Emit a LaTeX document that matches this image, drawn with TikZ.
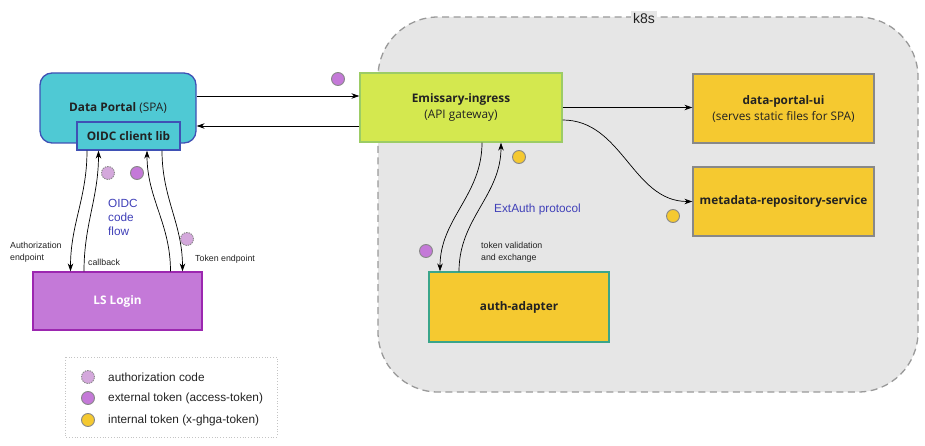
\documentclass[tikz,border=0pt]{standalone}
\usepackage{fontspec}
\setmainfont{Open Sans}
\newfontfamily\labfont{Liberation Sans}
\usetikzlibrary{arrows.meta}
\definecolor{portalcyan}{HTML}{4FC9D4}
\definecolor{portaledge}{HTML}{3F51B5}
\definecolor{loginpurple}{HTML}{C479D8}
\definecolor{loginedge}{HTML}{9C27B0}
\definecolor{gatelime}{HTML}{D4E84F}
\definecolor{gateedge}{HTML}{9CCC65}
\definecolor{svcyellow}{HTML}{F5C930}
\definecolor{svcedge}{HTML}{888888}
\definecolor{adapteredge}{HTML}{3AA58A}
\definecolor{clustergray}{HTML}{E6E6E6}
\definecolor{codelilac}{HTML}{D4A8DC}
\definecolor{flowblue}{HTML}{4040B8}
\definecolor{textdark}{HTML}{222222}
\begin{document}
\begin{tikzpicture}[x=1pt, y=-1pt,
    box/.style={draw, line width=1.3pt, inner sep=0pt, align=center, text=textdark,
      font=\fontsize{11.8}{16}\selectfont},
    token/.style={circle, minimum size=13pt, inner sep=0pt, draw=svcedge, line width=0.9pt},
    authcode/.style={token, fill=codelilac, dash pattern=on 1.4pt off 1pt},
    extoken/.style={token, fill=loginpurple},
    intoken/.style={token, fill=svcyellow},
    flow/.style={-{Stealth[length=8pt, width=5.5pt]}, line width=0.7pt},
    lab/.style={font=\labfont\fontsize{8.8}{11.5}\selectfont, text=textdark, inner sep=0pt, align=left},
    legtext/.style={lab, font=\labfont\fontsize{11.8}{13}\selectfont, anchor=west},
    note/.style={font=\labfont\fontsize{11.8}{14}\selectfont, text=flowblue, inner sep=0pt, align=left}]
  \useasboundingbox (0,0) rectangle (925,446);

  % k8s cluster
  \draw [svcedge!85, fill=clustergray, line width=1.3pt, dash pattern=on 7pt off 4.5pt,
    rounded corners=60pt] (378,17) rectangle (918,392);
  \node [fill=clustergray, inner sep=2pt, font=\labfont\fontsize{14}{16}\selectfont, text=textdark]
    (k8s) at (644,18) {k8s};

  % boxes
  \node [box, fill=portalcyan, draw=portaledge, rounded corners=12pt,
    minimum width=156pt, minimum height=70pt] (portal) at (118,108) {};
  \node [text=textdark, font=\fontsize{11.8}{14}\selectfont] (portaltxt) at (118,108)
    {\textbf{Data Portal} (SPA)};
  \node [box, fill=portalcyan, draw=portaledge, minimum width=103pt, minimum height=28pt]
    (oidc) at (128.5,136) {\textbf{OIDC client lib}};
  \node [box, fill=loginpurple, draw=loginedge, text=white, minimum width=169pt, minimum height=58pt]
    (login) at (117.5,301) {\textbf{LS Login}};
  \node [box, fill=gatelime, draw=gateedge, minimum width=202pt, minimum height=69pt]
    (gateway) at (461,107.5) {\textbf{Emissary-ingress}\\(API gateway)};
  \node [box, fill=svcyellow, draw=svcedge, minimum width=181pt, minimum height=69pt]
    (portalui) at (783.5,108.5) {\textbf{data-portal-ui}\\(serves static files for SPA)};
  \node [box, fill=svcyellow, draw=svcedge, minimum width=181pt, minimum height=69pt]
    (metarepo) at (783.5,201.5) {\textbf{metadata-repository-service}};
  \node [box, fill=svcyellow, draw=adapteredge, minimum width=180pt, minimum height=70pt]
    (adapter) at (519,307) {\textbf{auth-adapter}};

  % connectors
  \draw [flow] ([yshift=12pt]portal.east) -- ([yshift=11.5pt]gateway.west);
  \draw [flow] ([yshift=-18.5pt]gateway.west) -- ([yshift=-18pt]portal.east);
  \draw [flow] (gateway.east) -- (gateway.east -| portalui.west);
  \draw [flow] ([yshift=-12.5pt]gateway.east) to [out=0, in=180] (metarepo.west);
  \draw [flow] ([xshift=21pt]gateway.south) to [out=-90, in=90] ([xshift=-79pt]adapter.north);
  \draw [flow] ([xshift=-60pt]adapter.north) to [out=90, in=-90] ([xshift=40pt]gateway.south);
  \draw [flow] ([xshift=-41.5pt]oidc.south) to [out=-90, in=90] ([xshift=-47pt]login.north);
  \draw [flow] ([xshift=-33.5pt]login.north) to [out=90, in=-90] ([xshift=-30pt]oidc.south);
  \draw [flow] ([xshift=53pt]login.north) to [out=90, in=-90] ([xshift=18.5pt]oidc.south);
  \draw [flow] ([xshift=33.5pt]oidc.south) to [out=-90, in=90] ([xshift=65pt]login.north);

  % labels
  \node [note, anchor=north west] (oidcflow) at (108,199) {OIDC\\code\\flow};
  \node [lab, anchor=west] (authep) at (10,252) {Authorization\\endpoint};
  \node [lab, anchor=west] (callback) at (88,262) {callback};
  \node [lab, anchor=west] (tokenep) at (195,259) {Token endpoint};
  \node [note, anchor=west] (extauth) at (494,209) {ExtAuth protocol};
  \node [lab, anchor=west] (exchange) at (481,252) {token validation\\and exchange};

  % tokens
  \node [authcode] (codeA) at (108,173) {};
  \node [extoken] (extA) at (137,173) {};
  \node [authcode] (codeB) at (187,239) {};
  \node [extoken] (extB) at (338,79) {};
  \node [intoken] (intA) at (519,157) {};
  \node [extoken] (extC) at (426,251) {};
  \node [intoken] (intB) at (673,216) {};

  % legend
  \draw [svcedge!50, dotted, line width=0.8pt] (65,357) rectangle (277,437);
  \node [authcode] (legcode) at (88,377) {};
  \node [extoken] (legext) at (88,398) {};
  \node [intoken] (legint) at (88,420) {};
  \node [legtext] (legcodetxt) at (108,377) {authorization code};
  \node [legtext] (legexttxt) at (108,398) {external token (access-token)};
  \node [legtext] (leginttxt) at (108,420) {internal token (x-ghga-token)};
\end{tikzpicture}
\end{document}
